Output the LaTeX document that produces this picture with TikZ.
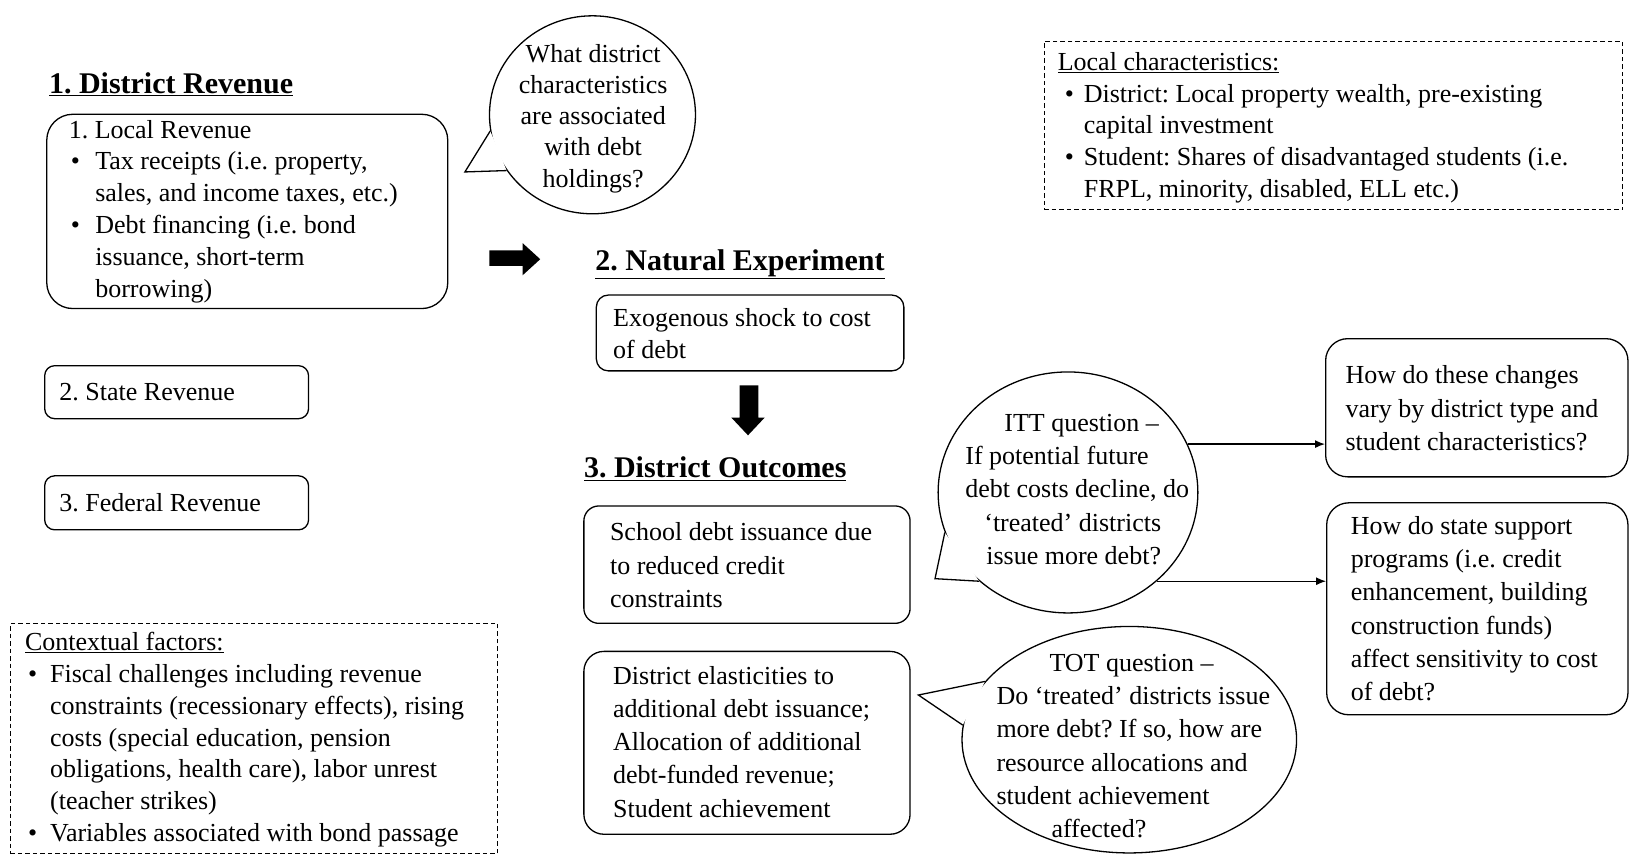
\documentclass[tikz,border=0pt]{standalone}
\usepackage{fontspec}
\setmainfont{Liberation Serif}
\usetikzlibrary{shapes.geometric,fit,arrows.meta}
\newcommand{\bl}[2]{\hspace*{#1}\makebox[#2][l]{•}}
\newcommand{\ind}[1]{\hspace*{#1}}
\frenchspacing
\begin{document}
\begin{tikzpicture}[x={(1.039pt,0pt)},y={(0pt,-1.039pt)},
  rbox/.style={draw, line width=1.3pt, inner sep=0pt},
  dbox/.style={draw, line width=0.9pt, inner sep=0pt, dash pattern=on 4.5pt off 3pt},
  txt/.style={inner sep=0pt, align=left, font=\frenchspacing\fontsize{26}{31.8}\selectfont},
  txtb/.style={inner sep=0pt, align=left, font=\frenchspacing\fontsize{26}{33.3}\selectfont},
  ttl/.style={inner sep=0pt, font=\frenchspacing\fontsize{30}{36}\selectfont\bfseries},
  bub/.style={draw, ellipse, line width=1.3pt, inner sep=0pt},
  conn/.style={-{Latex[length=10pt,width=8pt]}, line width=1.3pt}]
\useasboundingbox (0,0) rectangle (1568,823);

% ---------- column 1 ----------
\node[ttl, anchor=base west] (t1) at (47,90) {\underline{1. District Revenue}};
\node[rbox, rounded corners=26pt, fit={(45,110) (431,297)}] (loc) {};
\node[txt, anchor=west] (loct) at (66,203.5) {1. Local Revenue\\
\bl{2pt}{24.5pt}Tax receipts (i.e. property,\\
\ind{26.5pt}sales, and income taxes, etc.)\\
\bl{2pt}{24.5pt}Debt financing (i.e. bond\\
\ind{26.5pt}issuance, short-term\\
\ind{26.5pt}borrowing)};

\node[rbox, rounded corners=10pt, fit={(43,352) (297,403)}] (st) {};
\node[txt, anchor=west] (stt) at (57,377.5) {2. State Revenue};
\node[rbox, rounded corners=10pt, fit={(43,458) (297,510)}] (fed) {};
\node[txt, anchor=west] (fedt) at (57,484) {3. Federal Revenue};

\node[dbox, fit={(10,600) (479,821.5)}] (ctx) {};
\node[txt, anchor=west] (ctxt) at (24,712) {\underline{Contextual factors:}\\
\bl{3pt}{22pt}Fiscal challenges including revenue\\
\ind{25pt}constraints (recessionary effects), rising\\
\ind{25pt}costs (special education, pension\\
\ind{25pt}obligations, health care), labor unrest\\
\ind{25pt}(teacher strikes)\\
\bl{3pt}{22pt}Variables associated with bond passage};

% ---------- bubble 1 ----------
\node[bub, minimum width=206pt, minimum height=198pt] (b1) at (570.3,110.5) {};
\coordinate (b1tip) at (447.5,165.5);
\draw[line width=1.3pt, fill=white, line join=miter] (b1.189.7) -- (b1tip) -- (b1.213.5);
\node[txt, align=center, font=\frenchspacing\fontsize{26}{31.2}\selectfont] (b1t) at (571,114)
  {What district\\characteristics\\are associated\\with debt\\holdings?};

% ---------- block arrows ----------
\fill (471,241) -- (503,241) -- (503,234) -- (520,249.5) -- (503,265) -- (503,256) -- (471,256) -- cycle;
\fill (712,371) -- (730,371) -- (730,402) -- (736,402) -- (720,419) -- (704,402) -- (712,402) -- cycle;

% ---------- column 2 ----------
\node[ttl, anchor=base west] (t2) at (573,260) {\underline{2. Natural Experiment}};
\node[rbox, rounded corners=12pt, fit={(574,284) (870,357)}] (exo) {};
\node[txt, anchor=west] (exot) at (590,321) {Exogenous shock to cost\\of debt};

\node[ttl, anchor=base west] (t3) at (562,460) {\underline{3. District Outcomes}};
\node[rbox, rounded corners=15pt, fit={(562,487) (876,600)}] (sch) {};
\node[txtb, anchor=west] (scht) at (587,544) {School debt issuance due\\to reduced credit\\constraints};
\node[rbox, rounded corners=20pt, fit={(562,627) (876,803)}] (del) {};
\node[txtb, anchor=west] (delt) at (590,714) {District elasticities to\\additional debt issuance;\\Allocation of additional\\debt-funded revenue;\\Student achievement};

% ---------- ITT bubble ----------
\node[bub, minimum width=259.75pt, minimum height=241pt] (itt) at (1028,474) {};
\coordinate (itttip) at (900,557);
\draw[line width=1.3pt, fill=white, line join=miter] (itt.198.1) -- (itttip) -- (itt.225);
\node[txtb, anchor=west] (ittt) at (929,471) {\ind{39pt}ITT question –\\If potential future\\debt costs decline, do\\\ind{19pt}‘treated’ districts\\\ind{21pt}issue more debt?};

% ---------- TOT bubble ----------
\node[bub, minimum width=334.6pt, minimum height=226.5pt] (tot) at (1087,712) {};
\coordinate (tottip) at (884,669);
\draw[line width=1.3pt, fill=white, line join=miter] (tot.158.85) -- (tottip) -- (tot.175.7);
\node[txtb, anchor=west] (tott) at (959,718) {\ind{53pt}TOT question –\\Do ‘treated’ districts issue\\more debt? If so, how are\\resource allocations and\\student achievement\\\ind{55pt}affected?};

% ---------- right column ----------
\node[dbox, fit={(1005,40) (1562,202)}] (lch) {};
\node[txt, anchor=west] (lcht) at (1018,123) {\underline{Local characteristics:}\\
\bl{7pt}{19pt}District: Local property wealth, pre-existing\\
\ind{26pt}capital investment\\
\bl{7pt}{19pt}Student: Shares of disadvantaged students (i.e.\\
\ind{26pt}FRPL, minority, disabled, ELL etc.)};

\node[rbox, rounded corners=22pt, fit={(1276,326) (1567,459)}] (q1) {};
\node[txtb, anchor=west] (q1t) at (1295,393) {How do these changes\\vary by district type and\\student characteristics?};
\node[rbox, rounded corners=22pt, fit={(1277,484) (1567,688)}] (q2) {};
\node[txtb, anchor=west] (q2t) at (1300,586) {How do state support\\programs (i.e. credit\\enhancement, building\\construction funds)\\affect sensitivity to cost\\of debt?};

\draw[conn] (itt.22.35) -- (itt.22.35 -| q1.west);
\draw[conn] (itt.-45) -- (itt.-45 -| q2.west);
\end{tikzpicture}
\end{document}
